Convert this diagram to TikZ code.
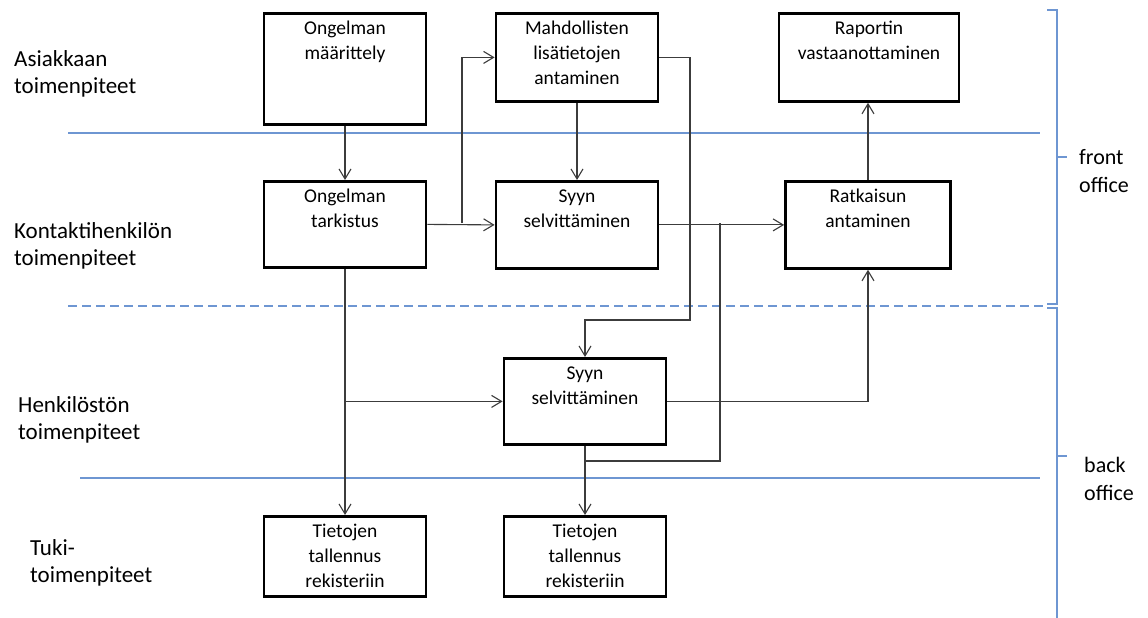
\documentclass[tikz,border=0pt]{standalone}
\usepackage{fontspec}
\setmainfont{Carlito}
\usetikzlibrary{arrows.meta}
\definecolor{laneblue}{RGB}{110,150,210}
\definecolor{linegray}{RGB}{60,60,60}
\newcommand{\boxlines}[1]{\begin{tabular}[t]{@{}c@{}}#1\end{tabular}}
\tikzstyle{box}=[draw, line width=2.8pt, minimum width=162pt, anchor=north, inner xsep=3pt, inner ysep=0pt, text height=21pt, font=\fontsize{19.5}{25}\selectfont]
\tikzstyle{conn}=[draw=linegray, line width=1.1pt, -{Straight Barb[length=10pt,width=12pt]}]

\begin{document}
\begin{tikzpicture}[x = 1pt, y = -1pt]
\tikzstyle{lane}=[draw = laneblue, line width = 1.1pt]
\tikzstyle{lanelabel}=[anchor = west, align = left, inner sep = 0pt, font = \fontsize{23}{27.5}\selectfont]
\tikzstyle{sidelabel}=[anchor = west, align = left, inner sep = 0pt, font = \fontsize{22}{28}\selectfont]
\useasboundingbox (0,0) rectangle (1148,618);
\draw[lane] (68,133) -- (1040,133);
\draw[lane, dashed, dash pattern = on 9pt off 5pt] (68,306) -- (1047,306);
\draw[lane] (80,478) -- (1040,478);
\draw[lane] (1047,10) -- (1057,10) -- (1057,304) -- (1047,304);
\draw[lane] (1057,157) -- (1067,157);
\draw[lane] (1047,308) -- (1057,308) -- (1057,618);
\draw[lane] (1057,456) -- (1067,456);
\node[lanelabel] (l0) at (14,74) {Asiakkaan\\toimenpiteet};
\node[lanelabel] (l1) at (14,246) {Kontaktihenkilön\\toimenpiteet};
\node[lanelabel] (l2) at (18,420) {Henkilöstön\\toimenpiteet};
\node[lanelabel] (l3) at (30,563) {Tuki-\\toimenpiteet};
\node[sidelabel] (s0) at (1079,171) {front\\office};
\node[sidelabel] (s1) at (1084,479) {back\\office};
\node[box, text depth = 90pt] (v0) at (345,12) {\boxlines{Ongelman\\määrittely}};
\node[box, text depth = 67pt] (v1) at (577,12) {\boxlines{Mahdollisten\\lisätietojen\\antaminen}};
\node[box, text depth = 67pt, minimum width = 180pt] (v2) at (869,12) {\boxlines{Raportin\\vastaanottaminen}};
\node[box, text depth = 65pt] (v3) at (345,180) {\boxlines{Ongelman\\tarkistus}};
\node[box, text depth = 66pt] (v4) at (577,180) {\boxlines{Syyn\\selvittäminen}};
\node[box, text depth = 66pt, minimum width = 165pt] (v5) at (868,180) {\boxlines{Ratkaisun\\antaminen}};
\node[box, text depth = 65pt] (v6) at (585,357) {\boxlines{Syyn\\selvittäminen}};
\node[box, text depth = 59pt] (v7) at (345,515) {\boxlines{Tietojen\\tallennus\\rekisteriin}};
\node[box, text depth = 59pt] (v8) at (585,515) {\boxlines{Tietojen\\tallennus\\rekisteriin}};
\coordinate (c0) at (462,223);
\coordinate (c1) at (690,320);
\coordinate (c2) at (720,223);
\coordinate (c3) at (585,461);
\draw[conn] (v0) -- (v3);
\draw[conn] (v3.east) -- (v4.west);
\draw[conn] (c0) |- (v1.west);
\draw[conn] (v1) -- (v4);
\draw[conn] (v1.east) -| (c1) -| (v6.north);
\draw[conn] (v4.east) -- (v5.west);
\draw[conn, -] (c2) |- (c3);
\draw[conn] (v6) -- (v8);
\draw[conn] (v6.east) -| (v5.south);
\draw[conn] (v5.north) -- (v5.north |- v2.south);
\draw[conn] (v3) -- (v7);
\draw[conn] (v3.south |- v6.west) -- (v6.west);
\end{tikzpicture}
\end{document}
